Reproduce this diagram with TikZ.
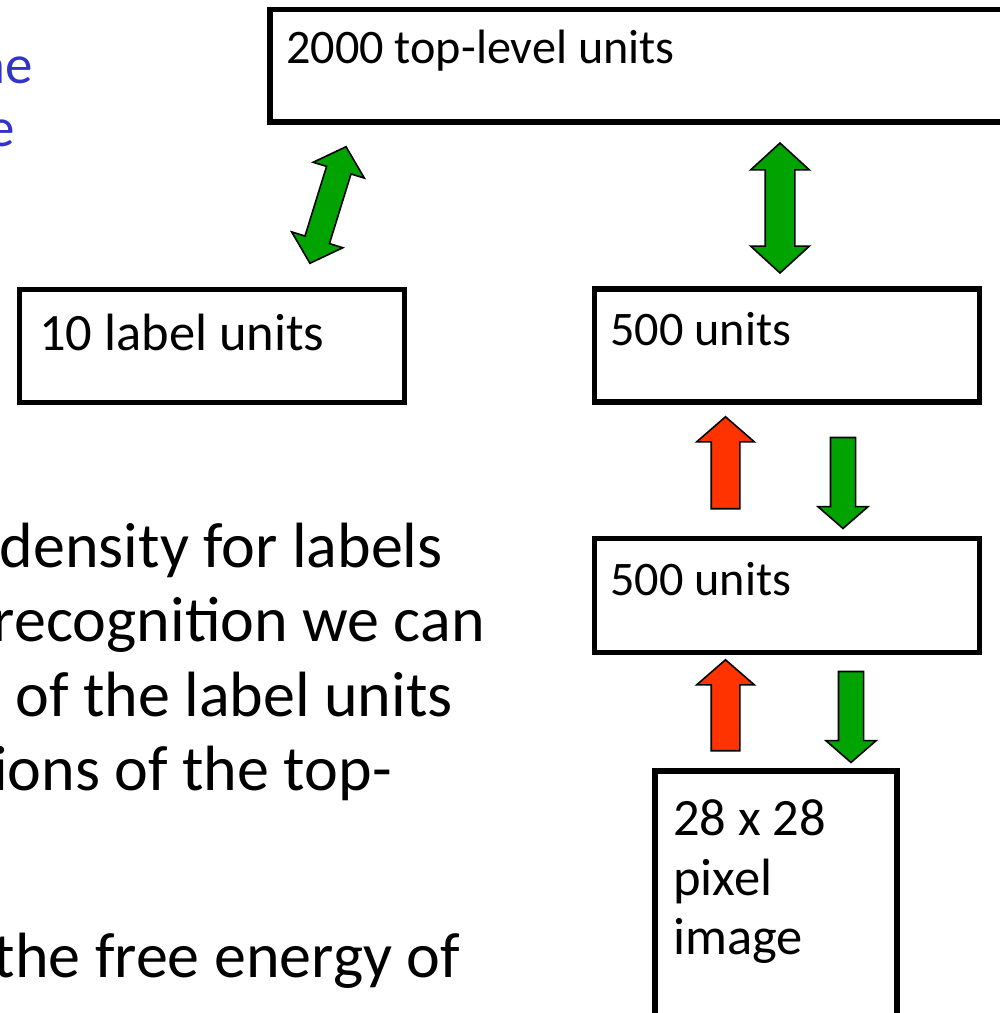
\documentclass[tikz,border=0pt]{standalone}
\usepackage{fontspec}
\setmainfont{Carlito}
\usetikzlibrary{shapes.arrows}
\definecolor{arrowgreen}{RGB}{0,163,0}
\definecolor{arrowred}{RGB}{255,51,0}
\definecolor{noteblue}{RGB}{51,51,204}
\begin{document}
\begin{tikzpicture}[x=1pt,y=-1pt,
  unitbox/.style={draw=black, line width=5.5pt, fill=white, inner sep=0pt},
  boxtext/.style={inner sep=0pt, anchor=base west, font=\fontsize{48.2}{57}\selectfont},
  bigboxtext/.style={inner sep=0pt, anchor=base west, font=\fontsize{52.5}{60}\selectfont},
  bodytext/.style={inner sep=0pt, anchor=base east, font=\fontsize{64}{75}\selectfont},
  bluetext/.style={inner sep=0pt, anchor=base east, text=noteblue, font=\fontsize{55}{63}\selectfont},
  % shaft width = 2 x inner ysep, head width = shaft + 2 x head extend
  uparrow/.style={single arrow, draw=black, line width=1.6pt, fill=arrowred,
    inner xsep=0pt, inner ysep=13.5pt,
    single arrow tip angle=98, single arrow head extend=14.5pt,
    minimum height=92pt, rotate=90},
  downarrow/.style={single arrow, draw=black, line width=1.6pt, fill=arrowgreen,
    inner xsep=0pt, inner ysep=11.75pt,
    single arrow tip angle=98, single arrow head extend=12.5pt,
    minimum height=91pt, rotate=-90},
  linkarrow/.style={double arrow, draw=black, line width=1.6pt, fill=arrowgreen,
    inner xsep=0pt, inner ysep=13pt,
    double arrow tip angle=95, double arrow head extend=14.5pt}]
\useasboundingbox (0,0) rectangle (1000,1013);
\clip (0,0) rectangle (1000,1013);

% the layers of the network
\node[unitbox, minimum width=745pt, minimum height=112.5pt] (top) at (642.5,65.75) {};
\node[unitbox, minimum width=385pt, minimum height=113pt] (labels) at (212,346) {};
\node[unitbox, minimum width=385pt, minimum height=113pt] (hidA) at (787,345.5) {};
\node[unitbox, minimum width=385pt, minimum height=114pt] (hidB) at (787,595.5) {};
\node[unitbox, minimum width=242pt, minimum height=259pt] (pixels) at (776,900.5) {};

\node[boxtext] at (286,63) {2000 top-level units};
\node[bigboxtext] at (39,350) {10 label units};
\node[boxtext] at (610,345) {500 units};
\node[boxtext] at (610,595) {500 units};
\node[bigboxtext] at (673,835) {28 x 28};
\node[bigboxtext] at (673,895) {pixel};
\node[bigboxtext] at (673,954) {image};

% undirected connections to the top level
\node[linkarrow, inner ysep=12pt, double arrow head extend=14pt, minimum height=122pt, rotate=72.8] (toplabel) at (328,205) {};
\node[linkarrow, inner ysep=14pt, minimum height=130pt, rotate=90] (tophid) at (780,208) {};

% recognition (up) and generative (down) connections
\node[uparrow] (recA) at (725.5,469) {};
\node[downarrow] (genA) at (843,477.5) {};
\node[uparrow, minimum height=91pt] (recB) at (725.5,711.5) {};
\node[downarrow] (genB) at (851,711.5) {};

% slide text
\node[bluetext] at (33,83) {ne};
\node[bluetext] at (15,146) {e};
\node[bodytext] at (443,567) {density for labels};
\node[bodytext] at (485,641) {recognition we can};
\node[bodytext] at (453,716) {of the label units};
\node[bodytext] at (392,790) {ions of the top-};
\node[bodytext] at (460,977) {the free energy of};
\end{tikzpicture}
\end{document}
